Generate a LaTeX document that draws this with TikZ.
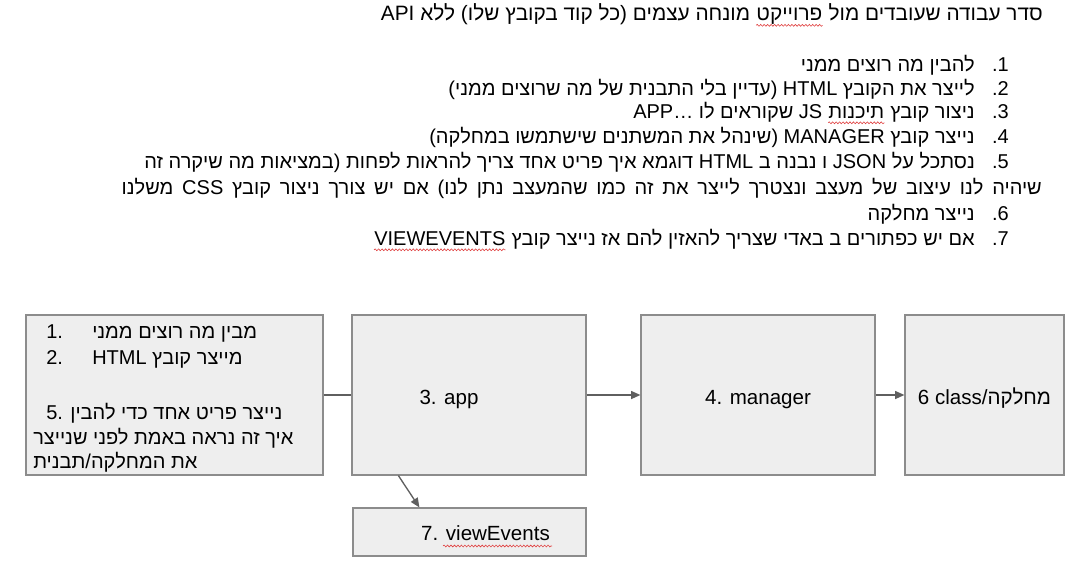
\documentclass[tikz,border=0pt]{standalone}
\usepackage{fontspec}
\setmainfont{Liberation Sans}
\newfontfamily\hebfont[Script=Hebrew]{Liberation Sans}
\TeXXeTstate=1
\usetikzlibrary{arrows.meta,decorations.pathmorphing}
\newcommand{\myrtl}[1]{{\hebfont\beginR #1\endR}}
\newcommand{\latn}[1]{{\rmfamily #1}}
\definecolor{boxfill}{HTML}{EEEEEE}
\definecolor{boxline}{HTML}{8C8C8C}
\definecolor{conncol}{HTML}{5F5F5F}
\definecolor{spell}{HTML}{E04040}
\begin{document}
\begin{tikzpicture}[x=0.75pt,y=-0.75pt,
  txt/.style={inner sep=0pt,font=\fontsize{15}{18}\selectfont},
  ttl/.style={rt,font=\fontsize{15.6}{18}\selectfont},
  lt/.style={txt,anchor=base west},
  rt/.style={txt,anchor=base east},
  box/.style={draw=boxline,fill=boxfill,line width=0.9pt,inner sep=0pt,
    font=\fontsize{15.4}{18}\selectfont,text height=14pt,text depth=0pt},
  conn/.style={draw=conncol,line width=1pt},
  arr/.style={conn,-{Triangle[length=7pt,width=6pt]}},
  squig/.style={draw=spell,line width=0.45pt,decorate,
    decoration={snake,amplitude=0.7pt,segment length=2.6pt}}]
\useasboundingbox (0,0) rectangle (1076,579);
\fill[white] (0,0) rectangle (1076,579);

% title (split so that the underlined word is its own node)
\node[ttl] (tA) at (1043,20) {\myrtl{סדר עבודה שעובדים מול}};
\node[ttl] (tW) at ([xshift=-4.33pt]tA.base west) {\myrtl{פרוייקט}};
\node[ttl] (tC) at ([xshift=-4.33pt]tW.base west) {\myrtl{מונחה עצמים (כל קוד בקובץ שלו) ללא API}};

% list numbers
\node[rt] (n1) at (1009,71) {.1};
\node[rt] (n2) at (1009,95) {.2};
\node[rt] (n3) at (1009,118) {.3};
\node[rt] (n4) at (1009,143) {.4};
\node[rt] (n5) at (1009,168) {.5};
\node[rt] (n6) at (1009,220) {.6};
\node[rt] (n7) at (1009,245) {.7};

% list items
\node[rt] (i1) at (975,71) {\myrtl{להבין מה רוצים ממני}};
\node[rt] (i2) at (975,95) {\myrtl{לייצר את הקובץ HTML (עדיין בלי התבנית של מה שרוצים ממני)}};
\node[rt] (i3a) at (975,118) {\myrtl{ניצור קובץ}};
\node[rt] (i3w) at ([xshift=-4.17pt]i3a.base west) {\myrtl{תיכנות}};
\node[rt] (i3c) at ([xshift=-4.17pt]i3w.base west) {\myrtl{JS שקוראים לו \latn{APP…}}};
\node[rt] (i4) at (975,143) {\myrtl{נייצר קובץ MANAGER (שינהל את המשתנים שישתמשו במחלקה)}};
\node[rt] (i5a) at (975,168) {\myrtl{נסתכל על JSON ו נבנה ב HTML דוגמא איך פריט אחד צריך להראות לפחות (במציאות מה שיקרה זה}};
\node[rt] (i5b) at (1042,194) {\hbox to 690pt{\myrtl{שיהיה לנו עיצוב של מעצב ונצטרך לייצר את זה כמו שהמעצב נתן לנו) אם יש צורך ניצור קובץ CSS משלנו}}};
\node[rt] (i6) at (975,220) {\myrtl{נייצר מחלקה}};
\node[rt] (i7a) at (975,245) {\myrtl{אם יש כפתורים ב באדי שצריך להאזין להם אז נייצר קובץ}};
\node[rt] (i7w) at ([xshift=-4.17pt]i7a.base west) {VIEWEVENTS};

% boxes
\node[box,minimum width=222.75pt,minimum height=120pt] (b1) at (174.5,395) {};
\node[box,minimum width=175.5pt,minimum height=120pt] (app) at (469,395) {3. app\rule{30pt}{0pt}};
\node[box,minimum width=175.5pt,minimum height=120pt] (mgr) at (758,395) {4. manager};
\node[box,minimum width=119.25pt,minimum height=120pt] (cls) at (984.5,395) {6 class/\myrtl{מחלקה}};
\node[box,minimum width=174.75pt,minimum height=36pt,text height=12.5pt] (vev) at (469.5,532) {\hspace{24pt}7. viewEvents};

% box 1 texts
\node[lt] (b1n1) at (46,338) {1.};
\node[lt] (b1t1) at (92,338) {\myrtl{מבין מה רוצים ממני}};
\node[lt] (b1n2) at (46,364) {2.};
\node[lt] (b1t2) at (92,364) {HTML \myrtl{מייצר קובץ}};
\node[lt] (b1t3) at (46,419) {5. \myrtl{נייצר פריט אחד כדי להבין}};
\node[lt] (b1t4) at (33,444) {\myrtl{איך זה נראה באמת לפני שנייצר}};
\node[lt] (b1t5) at (33,468) {\myrtl{את המחלקה/תבנית}};

% connectors
\draw[conn] (b1.east) -- (app.west);
\draw[arr] (app.east) -- (mgr.west);
\draw[arr] (mgr.east) -- (cls.west);
\draw[arr] ([xshift=35.25pt]app.south west) -- ([xshift=50.25pt]vev.north west);

% spell-check squiggles
\draw[squig] ([yshift=-4pt]tW.base west) -- ([yshift=-4pt]tW.base east);
\draw[squig] ([yshift=-3.6pt]i3w.base west) -- ([yshift=-3.6pt]i3w.base east);
\draw[squig] ([yshift=-3.6pt]i7w.base west) -- ([yshift=-3.6pt]i7w.base east);
\draw[squig] (443,546) -- (552,546);
\end{tikzpicture}
\end{document}
